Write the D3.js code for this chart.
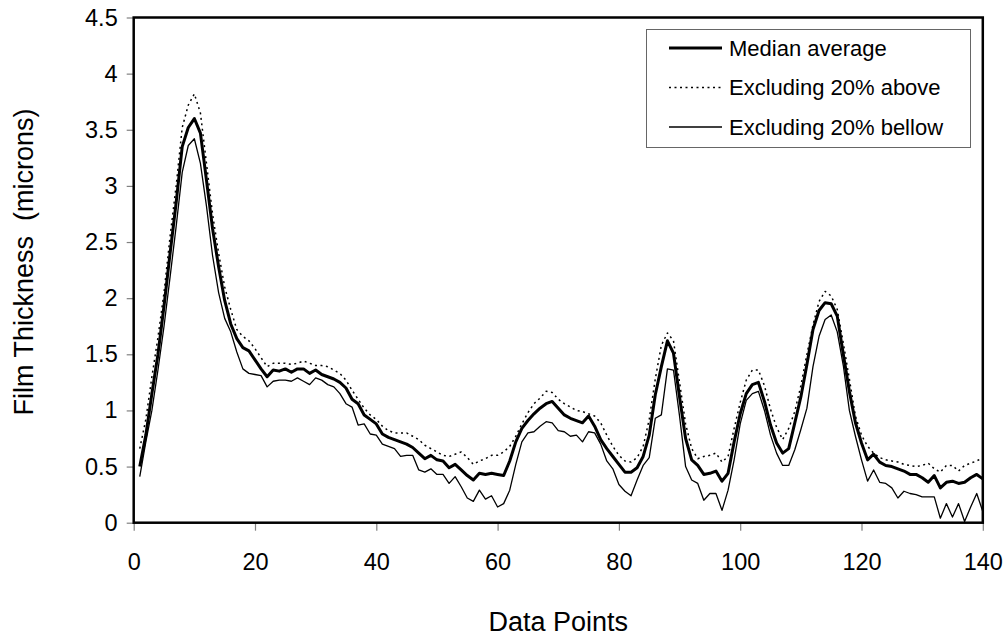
<!DOCTYPE html>
<html>
<head>
<meta charset="utf-8">
<script src="https://cdn.jsdelivr.net/npm/d3@7.9.0/dist/d3.min.js"></script>
<style>
  html, body { margin: 0; padding: 0; background: #fff; }
  svg { display: block; font-family: "Liberation Sans", Arial, sans-serif; }
</style>
</head>
<body>
<svg id="chart" width="1006" height="637"></svg>
<script>
// film thickness readings, one value per data point (1..140)
const medianAvg = [
  0.50, 0.78, 1.15, 1.50, 1.93, 2.40, 2.85, 3.35, 3.52, 3.60,
  3.47, 3.05, 2.62, 2.28, 1.98, 1.77, 1.64, 1.56, 1.53, 1.45,
  1.37, 1.30, 1.36, 1.35, 1.37, 1.34, 1.37, 1.37, 1.33, 1.36,
  1.32, 1.30, 1.28, 1.25, 1.20, 1.10, 1.06, 0.96, 0.92, 0.88,
  0.79, 0.76, 0.74, 0.72, 0.70, 0.67, 0.62, 0.57, 0.60, 0.56,
  0.55, 0.49, 0.52, 0.47, 0.42, 0.38, 0.44, 0.43, 0.44, 0.43,
  0.42, 0.55, 0.72, 0.84, 0.91, 0.97, 1.02, 1.06, 1.08, 1.02,
  0.96, 0.93, 0.91, 0.89, 0.95, 0.86, 0.74, 0.66, 0.59, 0.52,
  0.45, 0.45, 0.49, 0.59, 0.78, 1.14, 1.39, 1.62, 1.51, 1.12,
  0.75, 0.56, 0.51, 0.43, 0.44, 0.46, 0.37, 0.44, 0.72, 0.97,
  1.15, 1.23, 1.25, 1.08, 0.87, 0.71, 0.62, 0.66, 0.89, 1.12,
  1.41, 1.72, 1.89, 1.96, 1.95, 1.84, 1.50, 1.17, 0.89, 0.71,
  0.56, 0.61, 0.54, 0.51, 0.50, 0.48, 0.46, 0.43, 0.43, 0.40,
  0.36, 0.42, 0.31, 0.36, 0.37, 0.35, 0.36, 0.40, 0.43, 0.39
];

const exclAbove = [
  0.66, 0.92, 1.30, 1.65, 2.05, 2.55, 3.00, 3.52, 3.72, 3.82,
  3.65, 3.20, 2.75, 2.40, 2.10, 1.90, 1.72, 1.66, 1.62, 1.55,
  1.47, 1.39, 1.42, 1.42, 1.42, 1.41, 1.42, 1.44, 1.42, 1.40,
  1.40, 1.39, 1.36, 1.33, 1.27, 1.18, 1.10, 1.02, 0.96, 0.92,
  0.86, 0.82, 0.80, 0.80, 0.80, 0.77, 0.74, 0.69, 0.66, 0.63,
  0.60, 0.59, 0.61, 0.63, 0.58, 0.52, 0.55, 0.57, 0.60, 0.60,
  0.63, 0.68, 0.77, 0.88, 0.98, 1.06, 1.11, 1.17, 1.16, 1.10,
  1.06, 1.03, 1.00, 0.99, 0.97, 0.95, 0.89, 0.78, 0.68, 0.60,
  0.55, 0.54, 0.58, 0.68, 0.92, 1.28, 1.58, 1.69, 1.62, 1.25,
  0.88, 0.66, 0.57, 0.59, 0.60, 0.62, 0.54, 0.59, 0.84, 1.07,
  1.27, 1.36, 1.36, 1.22, 1.01, 0.85, 0.74, 0.84, 0.99, 1.22,
  1.50, 1.76, 1.97, 2.06, 2.02, 1.90, 1.60, 1.28, 0.95, 0.78,
  0.68, 0.62, 0.58, 0.56, 0.55, 0.54, 0.52, 0.51, 0.50, 0.51,
  0.53, 0.48, 0.45, 0.51, 0.51, 0.46, 0.51, 0.53, 0.55, 0.58
];

const exclBelow = [
  0.41, 0.72, 1.00, 1.36, 1.75, 2.19, 2.64, 3.12, 3.36, 3.42,
  3.20, 2.82, 2.38, 2.05, 1.82, 1.70, 1.52, 1.37, 1.33, 1.32,
  1.31, 1.21, 1.26, 1.27, 1.27, 1.26, 1.29, 1.26, 1.23, 1.29,
  1.27, 1.23, 1.21, 1.15, 1.06, 1.03, 0.87, 0.88, 0.79, 0.78,
  0.70, 0.68, 0.66, 0.59, 0.60, 0.60, 0.47, 0.45, 0.48, 0.43,
  0.43, 0.35, 0.41, 0.32, 0.22, 0.19, 0.29, 0.21, 0.24, 0.14,
  0.17, 0.29, 0.52, 0.72, 0.80, 0.81, 0.86, 0.90, 0.89, 0.82,
  0.81, 0.77, 0.78, 0.72, 0.81, 0.80, 0.70, 0.55, 0.48, 0.34,
  0.28, 0.24, 0.38, 0.51, 0.58, 0.93, 0.96, 1.37, 1.36, 0.95,
  0.50, 0.38, 0.35, 0.20, 0.26, 0.26, 0.11, 0.29, 0.56, 0.88,
  1.09, 1.15, 1.17, 1.00, 0.78, 0.62, 0.51, 0.51, 0.65, 0.83,
  1.02, 1.39, 1.66, 1.81, 1.85, 1.70, 1.40, 1.00, 0.77, 0.56,
  0.37, 0.47, 0.36, 0.35, 0.31, 0.22, 0.28, 0.26, 0.25, 0.23,
  0.23, 0.23, 0.04, 0.17, 0.05, 0.17, 0.01, 0.14, 0.26, 0.10
];

const xTicks = [0, 20, 40, 60, 80, 100, 120, 140];
const yTicks = [0, 0.5, 1, 1.5, 2, 2.5, 3, 3.5, 4, 4.5];
const seriesNames = ['Median average', 'Excluding 20% above', 'Excluding 20% bellow'];

const series = [
  { name: seriesNames[0], values: medianAvg, width: 3, dash: null },
  { name: seriesNames[1], values: exclAbove, width: 1.5, dash: '2,3.5' },
  { name: seriesNames[2], values: exclBelow, width: 1.3, dash: null }
];

const svg = d3.select('#chart');
const plotL = 133.7, plotR = 982.8, plotT = 17.5, plotB = 522.7;

const x = d3.scaleLinear().domain([0, 140]).range([plotL, plotR]);
const y = d3.scaleLinear().domain([0, 4.5]).range([plotB, plotT]);

// axes
const xAxis = svg.append('g')
  .attr('transform', `translate(0,${plotB})`)
  .call(d3.axisBottom(x).tickValues(xTicks).tickSize(8).tickSizeOuter(0).tickPadding(22.5));
const yAxis = svg.append('g')
  .attr('transform', `translate(${plotL},0)`)
  .call(d3.axisLeft(y).tickValues(yTicks).tickFormat(d => String(d)).tickSize(7).tickSizeOuter(0).tickPadding(9));

[xAxis, yAxis].forEach(g => {
  g.select('.domain').remove();
  g.selectAll('.tick line').attr('stroke', '#808080').attr('stroke-width', 1.2);
  g.selectAll('.tick text')
    .attr('fill', '#000')
    .style('font-family', '"Liberation Sans", Arial, sans-serif')
    .style('font-size', '23.5px');
});

// lines
const line = d3.line()
  .x((d, i) => x(i + 1))
  .y(d => y(d));

series.forEach(s => {
  svg.append('path')
    .datum(s.values)
    .attr('d', line)
    .attr('fill', 'none')
    .attr('stroke', '#000')
    .attr('stroke-width', s.width)
    .attr('stroke-linejoin', 'round')
    .attr('stroke-dasharray', s.dash);
});

// plot frame
svg.append('rect')
  .attr('x', plotL).attr('y', plotT)
  .attr('width', plotR - plotL).attr('height', plotB - plotT)
  .attr('fill', 'none')
  .attr('stroke', '#000')
  .attr('stroke-width', 2.5);

// axis titles
svg.append('text')
  .attr('x', (plotL + plotR) / 2)
  .attr('y', 631)
  .attr('text-anchor', 'middle')
  .style('font-size', '27px')
  .text('Data Points');

svg.append('text')
  .attr('transform', 'translate(33,262) rotate(-90)')
  .attr('text-anchor', 'middle')
  .style('font-size', '27px')
  .style('white-space', 'pre')
  .text('Film Thickness  (microns)');

// legend
const legend = svg.append('g');
legend.append('rect')
  .attr('x', 646.5).attr('y', 29.5)
  .attr('width', 324).attr('height', 118)
  .attr('fill', '#fff')
  .attr('stroke', '#666')
  .attr('stroke-width', 1);

series.forEach((s, i) => {
  const ly = 48 + i * 39.5;
  legend.append('line')
    .attr('x1', 669).attr('x2', 722)
    .attr('y1', ly).attr('y2', ly)
    .attr('stroke', '#000')
    .attr('stroke-width', s.width)
    .attr('stroke-dasharray', s.dash);
  legend.append('text')
    .attr('x', 729)
    .attr('y', ly)
    .attr('dy', '0.35em')
    .style('font-size', '22px')
    .text(s.name);
});
</script>
</body>
</html>
